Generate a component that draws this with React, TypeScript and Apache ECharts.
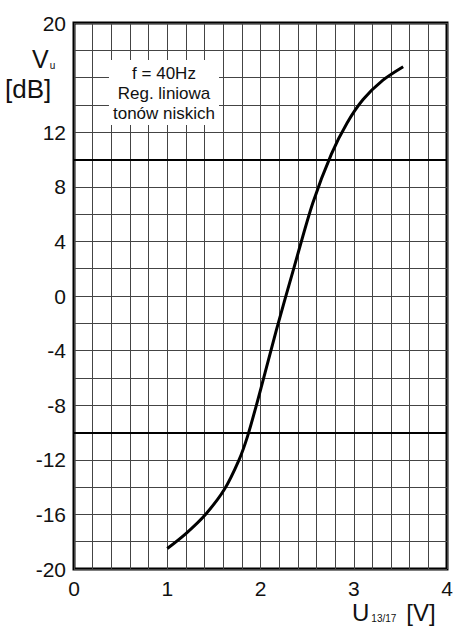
import React, { useEffect, useRef } from "react";
import * as echarts from "echarts";

const voltage = [1.0, 1.2, 1.41, 1.61, 1.77, 1.86, 1.96, 2.05, 2.17, 2.36, 2.56, 2.76, 2.93, 3.1, 3.31, 3.53];
const gainDb = [-18.5, -17.4, -16.0, -14.2, -12.0, -10.3, -7.9, -5.6, -2.5, 2.1, 6.8, 10.4, 12.7, 14.4, 15.8, 16.8];
const yLabels = [20, 12, 8, 4, 0, -4, -8, -12, -16, -20];
const xLabels = [0, 1, 2, 3, 4];
const boldLines = [10, -10];
const noteLines = ["f = 40Hz", "Reg. liniowa", "tonów niskich"];

const FONT = "Liberation Sans, Arial, sans-serif";

export default function App() {
  const ref = useRef<HTMLDivElement>(null);
  useEffect(() => {
    document.body.style.margin = "0";
    const chart = echarts.init(ref.current!, null, { renderer: "svg" });
    const near = (v: number, t: number) => Math.abs(v - t) < 1e-6;
    chart.setOption({
      animation: false,
      backgroundColor: "#ffffff",
      grid: {
        left: 74,
        right: 11,
        top: 23,
        bottom: 61,
        show: true,
        borderColor: "#000",
        borderWidth: 3,
        backgroundColor: "transparent",
      },
      xAxis: {
        type: "value",
        min: 0,
        max: 4,
        interval: 0.2,
        axisLine: { show: false },
        axisTick: { show: false },
        splitLine: { show: true, lineStyle: { color: "#444", width: 1 } },
        axisLabel: {
          margin: 9,
          fontSize: 21,
          fontFamily: FONT,
          color: "#111",
          formatter: (v: number) => {
            const r = xLabels.find((t) => near(v, t));
            return r === undefined ? "" : String(r);
          },
        },
      },
      yAxis: {
        type: "value",
        min: -20,
        max: 20,
        interval: 2,
        axisLine: { show: false },
        axisTick: { show: false },
        splitLine: { show: true, lineStyle: { color: "#444", width: 1 } },
        axisLabel: {
          margin: 8,
          fontSize: 21,
          fontFamily: FONT,
          color: "#111",
          formatter: (v: number) => {
            const r = yLabels.find((t) => near(v, t));
            return r === undefined || r === 16 ? "" : String(r);
          },
        },
      },
      series: [
        {
          type: "line",
          data: voltage.map((x, i) => [x, gainDb[i]]),
          smooth: 0.3,
          showSymbol: false,
          lineStyle: { color: "#000", width: 3 },
          markLine: {
            silent: true,
            symbol: "none",
            label: { show: false },
            lineStyle: { color: "#000", width: 2, type: "solid" },
            data: boldLines.map((y) => ({ yAxis: y })),
          },
          z: 5,
        },
      ],
      graphic: [
        {
          type: "text",
          x: 164,
          y: 60,
          z: 10,
          style: {
            text: noteLines.join("\n"),
            align: "center",
            verticalAlign: "top",
            fontSize: 17,
            lineHeight: 20,
            fontFamily: FONT,
            fill: "#111",
            backgroundColor: "#fff",
            padding: [3, 4, 2, 4],
          },
        },
        {
          type: "text",
          x: 32,
          y: 59,
          style: {
            text: "{a|V}{b|u}",
            verticalAlign: "middle",
            rich: {
              a: { fontSize: 25, fontFamily: FONT, fill: "#111" },
              b: { fontSize: 10, fontFamily: FONT, fill: "#111", padding: [12, 0, 0, 1] },
            },
          },
        },
        {
          type: "text",
          x: 5,
          y: 89,
          style: {
            text: "[dB]",
            verticalAlign: "middle",
            fontSize: 26,
            fontFamily: FONT,
            fill: "#111",
          },
        },
        {
          type: "text",
          x: 352,
          y: 612,
          style: {
            text: "{a|U}{b|13/17}   {a|[V]}",
            verticalAlign: "middle",
            rich: {
              a: { fontSize: 24, fontFamily: FONT, fill: "#111" },
              b: { fontSize: 10, fontFamily: FONT, fill: "#111", padding: [12, 0, 0, 2] },
            },
          },
        },
      ],
    });
    return () => chart.dispose();
  }, []);
  return <div ref={ref} style={{ width: 458, height: 630 }} />;
}
